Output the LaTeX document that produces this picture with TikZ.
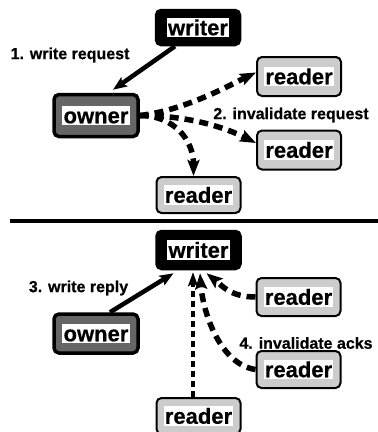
\documentclass[tikz,border=0pt]{standalone}
\usepackage{fontspec}
\setmainfont{Liberation Sans}[BoldFeatures={FakeBold=0.6}]
\usetikzlibrary{arrows.meta}
\begin{document}
\begin{tikzpicture}[x=1pt,y=-1pt,
  frame/.style={rounded corners=5pt, minimum width=84pt, inner sep=0pt, draw=black},
  wbox/.style={frame, fill=black, line width=2.5pt},
  obox/.style={frame, fill=black!60, line width=3.5pt},
  rbox/.style={frame, fill=black!20, line width=2pt},
  txt/.style={fill=white, inner xsep=1.2pt, inner ysep=1.5pt, font=\fontsize{22}{24}\selectfont\bfseries, text height=16pt, text depth=0.5pt},
  lbl/.style={font=\fontsize{16}{18}\selectfont\bfseries, inner sep=0pt},
  solidarrow/.style={line width=4.5pt, -{Stealth[length=14pt,width=11pt,inset=3pt]}},
  dasharrow/.style={line width=5.5pt, dash pattern=on 9pt off 6pt, -{Stealth[length=16pt,width=12pt,inset=3pt]}},
  thindash/.style={line width=3.5pt, dash pattern=on 6pt off 4pt, -{Stealth[length=14pt,width=10pt,inset=3pt]}},
]
\useasboundingbox (0,0) rectangle (378,432);

% ---------- top half ----------
\node[wbox, minimum height=35pt] (w1) at (198,27.5) {};
\node[txt] (w1t) at (w1) {writer};
\node[obox, minimum height=42pt] (o1) at (96,115.5) {};
\node[txt] (o1t) at (o1) {owner};
\node[rbox, minimum height=39pt] (r1) at (299,76.5) {};
\node[txt] (r1t) at (r1) {reader};
\node[rbox, minimum height=39pt] (r2) at (299,150) {};
\node[txt] (r2t) at (r2) {reader};
\node[rbox, minimum height=36pt] (r3) at (198.5,195) {};
\node[txt] (r3t) at (r3) {reader};

\node[lbl] (l1) at (70,55) {1. write request};
\node[lbl] (l2) at (291,115) {2. invalidate request};

\draw[solidarrow] ([xshift=-23pt]w1.south) -- ([xshift=17pt,yshift=3pt]o1.north);
\draw[dasharrow] (o1.east) .. controls +(45,-5) and +(-25,12) .. ([yshift=4pt]r1.west);
\draw[dasharrow] (o1.east) .. controls +(50,0) and +(-30,-15) .. ([yshift=7pt]r2.west);
\draw[dasharrow] (o1.east) .. controls +(35,0) and +(0,-35) .. ([xshift=-5pt]r3.north);

% ---------- separator ----------
\coordinate (sepL) at (10,221);
\coordinate (sepR) at (378,221);
\draw[line width=4pt] (sepL) -- (sepR);

% ---------- bottom half ----------
\node[wbox, minimum height=38pt] (w2) at (198.5,250) {};
\node[txt] (w2t) at (w2) {writer};
\node[obox, minimum height=39pt] (o2) at (96,333.5) {};
\node[txt] (o2t) at (o2) {owner};
\node[rbox, minimum height=38pt] (r4) at (298.5,297) {};
\node[txt] (r4t) at (r4) {reader};
\node[rbox, minimum height=37pt] (r5) at (298.5,369.5) {};
\node[txt] (r5t) at (r5) {reader};
\node[rbox, minimum height=36pt] (r6) at (198.5,416) {};
\node[txt] (r6t) at (r6) {reader};

\node[lbl] (l3) at (78.5,288) {3. write reply};
\node[lbl] (l4) at (306,343) {4. invalidate acks};

\draw[solidarrow] ([xshift=14pt]o2.north) -- ([xshift=-25pt,yshift=-3pt]w2.south);
\draw[thindash] ([xshift=-5.5pt]r6.north) -- ([xshift=-5.5pt,yshift=-2pt]w2.south);
\draw[dasharrow] (r4.west) .. controls +(-25,0) and +(15,12) .. ([xshift=8pt,yshift=-3pt]w2.south);
\draw[dasharrow] (r5.west) .. controls +(-35,-5) and +(3,40) .. ([xshift=1.5pt,yshift=-3pt]w2.south);
\end{tikzpicture}
\end{document}
